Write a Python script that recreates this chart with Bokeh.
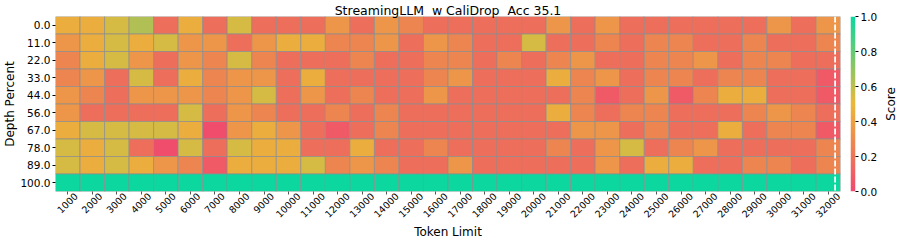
import numpy as np
from bokeh.plotting import figure
from bokeh.models import (ColumnDataSource, LinearColorMapper, FixedTicker, Range1d,
                          Span, LinearAxis, PrintfTickFormatter)
from bokeh.layouts import row
from bokeh.embed import file_html
from bokeh.resources import INLINE

# ---------------- data ----------------
token_limits = [1000, 2000, 3000, 4000, 5000, 6000, 7000, 8000, 9000, 10000,
                11000, 12000, 13000, 14000, 15000, 16000, 17000, 18000, 19000, 20000,
                21000, 22000, 23000, 24000, 25000, 26000, 27000, 28000, 29000, 30000,
                31000, 32000]
depth_labels = ["0.0", "11.0", "22.0", "33.0", "44.0", "56.0", "67.0", "78.0", "89.0", "100.0"]

score_d0 = [0.45, 0.45, 0.55, 0.63, 0.17, 0.45, 0.17, 0.55, 0.17, 0.17,
            0.17, 0.35, 0.17, 0.35, 0.27, 0.17, 0.17, 0.17, 0.17, 0.17,
            0.35, 0.17, 0.35, 0.17, 0.17, 0.17, 0.17, 0.17, 0.17, 0.35,
            0.17, 0.35]
score_d11 = [0.35, 0.45, 0.55, 0.45, 0.55, 0.35, 0.35, 0.17, 0.35, 0.45,
             0.45, 0.27, 0.27, 0.35, 0.17, 0.35, 0.27, 0.17, 0.17, 0.55,
             0.17, 0.17, 0.27, 0.17, 0.27, 0.27, 0.17, 0.17, 0.27, 0.17,
             0.17, 0.27]
score_d22 = [0.27, 0.45, 0.55, 0.35, 0.17, 0.35, 0.27, 0.55, 0.27, 0.17,
             0.17, 0.17, 0.27, 0.17, 0.17, 0.27, 0.27, 0.17, 0.27, 0.17,
             0.27, 0.35, 0.17, 0.17, 0.27, 0.27, 0.35, 0.17, 0.27, 0.27,
             0.17, 0.17]
score_d33 = [0.27, 0.35, 0.17, 0.55, 0.17, 0.45, 0.27, 0.35, 0.35, 0.17,
             0.45, 0.17, 0.17, 0.17, 0.17, 0.27, 0.35, 0.17, 0.17, 0.17,
             0.45, 0.27, 0.35, 0.17, 0.27, 0.27, 0.17, 0.27, 0.27, 0.17,
             0.17, 0.08]
score_d44 = [0.35, 0.27, 0.17, 0.35, 0.35, 0.35, 0.27, 0.35, 0.55, 0.17,
             0.35, 0.17, 0.27, 0.17, 0.17, 0.35, 0.17, 0.17, 0.17, 0.17,
             0.17, 0.27, 0.08, 0.17, 0.35, 0.08, 0.27, 0.45, 0.45, 0.17,
             0.17, 0.08]
score_d56 = [0.35, 0.17, 0.17, 0.17, 0.17, 0.55, 0.17, 0.35, 0.27, 0.17,
             0.17, 0.27, 0.17, 0.27, 0.17, 0.17, 0.17, 0.17, 0.17, 0.17,
             0.45, 0.27, 0.17, 0.27, 0.27, 0.17, 0.17, 0.17, 0.27, 0.35,
             0.27, 0.17]
score_d67 = [0.45, 0.55, 0.55, 0.55, 0.55, 0.45, 0.02, 0.35, 0.45, 0.35,
             0.17, 0.08, 0.17, 0.27, 0.17, 0.17, 0.17, 0.17, 0.17, 0.17,
             0.17, 0.35, 0.35, 0.17, 0.27, 0.17, 0.17, 0.45, 0.17, 0.27,
             0.27, 0.08]
score_d78 = [0.55, 0.45, 0.55, 0.17, 0.02, 0.55, 0.17, 0.55, 0.45, 0.45,
             0.17, 0.17, 0.45, 0.17, 0.17, 0.27, 0.17, 0.17, 0.17, 0.17,
             0.27, 0.17, 0.35, 0.55, 0.17, 0.27, 0.35, 0.17, 0.17, 0.17,
             0.17, 0.27]
score_d89 = [0.55, 0.45, 0.55, 0.45, 0.35, 0.27, 0.08, 0.45, 0.45, 0.45,
             0.55, 0.27, 0.35, 0.27, 0.17, 0.17, 0.35, 0.17, 0.17, 0.17,
             0.17, 0.17, 0.35, 0.17, 0.45, 0.45, 0.17, 0.17, 0.27, 0.27,
             0.17, 0.27]
score_d100 = [1.0, 1.0, 1.0, 1.0, 1.0, 1.0, 1.0, 1.0, 1.0, 1.0,
              1.0, 1.0, 1.0, 1.0, 1.0, 1.0, 1.0, 1.0, 1.0, 1.0,
              1.0, 1.0, 1.0, 1.0, 1.0, 1.0, 1.0, 1.0, 1.0, 1.0,
              1.0, 1.0]
score_rows = [score_d0, score_d11, score_d22, score_d33, score_d44,
              score_d56, score_d67, score_d78, score_d89, score_d100]

# double spaces as in the reference title (one of each pair non-breaking so SVG keeps it)
title_text = "StreamingLLM\u00a0 w CaliDrop\u00a0 Acc 35.1"
marker_position = 31.78   # dashed marker inside the last column
cbar_ticks = [0.0, 0.2, 0.4, 0.6, 0.8, 1.0]

# ---------------- colours ----------------
anchors = ["#F0496E", "#EBB839", "#0CD79F"]


def hex2rgb(h):
    return np.array([int(h[i:i + 2], 16) for i in (1, 3, 5)], dtype=float)


def build_palette(n=256):
    a = [hex2rgb(c) for c in anchors]
    out = []
    for t in np.linspace(0, 1, n):
        if t <= 0.5:
            c = a[0] + (a[1] - a[0]) * (t / 0.5)
        else:
            c = a[1] + (a[2] - a[1]) * ((t - 0.5) / 0.5)
        out.append("#%02x%02x%02x" % tuple(int(round(v)) for v in c))
    return out


mapper = LinearColorMapper(palette=build_palette(), low=0.0, high=1.0)

FONT = "DejaVu Sans"
n_cols = len(token_limits)
n_rows = len(depth_labels)

# layout (pixels)
FIG_H = 241
TOP, BOTTOM = 16, 49
MAIN_W = 841
LEFT, RIGHT = 51, 1
col_px = (MAIN_W - LEFT - RIGHT) / n_cols

# ---------------- main heat map ----------------
xs, ys, vals = [], [], []
for r, row_vals in enumerate(score_rows):
    for c, v in enumerate(row_vals):
        xs.append(c + 0.5)
        ys.append(n_rows - r - 0.5)
        vals.append(v)
src = ColumnDataSource(dict(x=xs, y=ys, score=vals))

p = figure(width=MAIN_W, height=FIG_H, x_range=Range1d(0, n_cols), y_range=Range1d(0, n_rows),
           output_backend="svg", toolbar_location=None, x_axis_location=None,
           min_border_left=LEFT, min_border_right=RIGHT,
           min_border_top=TOP, min_border_bottom=BOTTOM)
p.rect(x="x", y="y", width=1, height=1, source=src,
       fill_color={"field": "score", "transform": mapper},
       line_color="#8c8c8c", line_width=0.7)

p.xgrid.visible = False
p.ygrid.visible = False
p.outline_line_color = None

p.title.text = title_text
p.title.align = "center"
p.title.text_font = FONT
p.title.text_font_size = "12.5px"
p.title.text_font_style = "normal"
p.title.text_color = "black"
p.title.standoff = -2

# y axis (depth)
ytick_pos = [n_rows - i - 0.5 for i in range(n_rows)]
p.yaxis.ticker = FixedTicker(ticks=ytick_pos)
p.yaxis.major_label_overrides = {pos: lab for pos, lab in zip(ytick_pos, depth_labels)}
p.yaxis.axis_line_color = None
p.yaxis.major_tick_in = 0
p.yaxis.major_tick_out = 3
p.yaxis.major_tick_line_color = "black"
p.yaxis.major_label_standoff = 2
p.yaxis.major_label_text_font = FONT
p.yaxis.major_label_text_font_size = "10.5px"
p.yaxis.major_label_text_color = "black"
p.yaxis.axis_label = "Depth Percent"
p.yaxis.axis_label_standoff = 0
p.yaxis.axis_label_text_font = FONT
p.yaxis.axis_label_text_font_size = "12px"
p.yaxis.axis_label_text_font_style = "normal"
p.yaxis.axis_label_text_color = "black"

# x axis: tick marks at the column centres
xtick_pos = [c + 0.5 for c in range(n_cols)]
tick_axis = LinearAxis(ticker=FixedTicker(ticks=xtick_pos),
                       major_label_overrides={pos: "" for pos in xtick_pos},
                       major_label_text_font_size="1px", major_label_standoff=0,
                       axis_line_color=None, major_tick_in=0, major_tick_out=3,
                       major_tick_line_color="#555555")
p.add_layout(tick_axis, "below")

# x axis labels: rotated 45 deg, each label centred under its column like the reference
xt_font = 9.5
label_pos = [round(c + 0.5 + (0.3535 * len(str(t)) * 0.636 * xt_font - 0.3) / col_px, 4)
             for c, t in enumerate(token_limits)]
label_axis = LinearAxis(ticker=FixedTicker(ticks=label_pos),
                        major_label_overrides={pos: str(t) for pos, t in zip(label_pos, token_limits)},
                        major_label_orientation=np.pi / 4,
                        major_label_text_font=FONT,
                        major_label_text_font_size="%.1fpx" % xt_font,
                        major_label_text_color="black",
                        major_label_standoff=0,
                        axis_line_color=None, major_tick_in=0, major_tick_out=0,
                        major_tick_line_color=None,
                        axis_label="Token Limit", axis_label_standoff=1,
                        axis_label_text_font=FONT, axis_label_text_font_size="12px",
                        axis_label_text_font_style="normal", axis_label_text_color="black")
p.add_layout(label_axis, "below")

# dashed marker
p.add_layout(Span(location=marker_position, dimension="height", line_color="white",
                  line_width=1.8, line_dash="6 2"))

# ---------------- colour bar (gradient + tick labels) ----------------
CB_W = 39
cb = figure(width=CB_W, height=FIG_H, x_range=Range1d(0, 1), y_range=Range1d(0, 1),
            output_backend="svg", toolbar_location=None,
            x_axis_location=None, y_axis_location="right",
            min_border_left=9, min_border_right=CB_W - 17,
            min_border_top=TOP, min_border_bottom=BOTTOM)
grad = np.linspace(0, 1, 256).reshape(256, 1)
cb.image(image=[grad], x=0, y=0, dw=1, dh=1, color_mapper=mapper)
cb.xgrid.visible = False
cb.ygrid.visible = False
cb.outline_line_color = None
cb.yaxis.ticker = FixedTicker(ticks=cbar_ticks)
cb.yaxis.formatter = PrintfTickFormatter(format="%.1f")
cb.yaxis.axis_line_color = None
cb.yaxis.major_tick_in = 0
cb.yaxis.major_tick_out = 3
cb.yaxis.major_tick_line_color = "black"
cb.yaxis.major_label_standoff = 2
cb.yaxis.major_label_text_font = FONT
cb.yaxis.major_label_text_font_size = "10.5px"
cb.yaxis.major_label_text_color = "black"

# ---------------- colour bar title ("Score", reading bottom-to-top) ----------------
SC_W = 897 - MAIN_W - CB_W
sc = figure(width=SC_W, height=FIG_H, x_range=Range1d(0, 1), y_range=Range1d(0, 1),
            output_backend="svg", toolbar_location=None,
            x_axis_location=None, y_axis_location="left",
            min_border_left=12, min_border_right=0,
            min_border_top=TOP, min_border_bottom=BOTTOM)
sc.xgrid.visible = False
sc.ygrid.visible = False
sc.outline_line_color = None
sc.yaxis.ticker = FixedTicker(ticks=[])
sc.yaxis.axis_line_color = None
sc.yaxis.major_tick_out = 0
sc.yaxis.major_tick_in = 0
sc.yaxis.minor_tick_out = 0
sc.yaxis.major_label_standoff = 0
sc.yaxis.axis_label = "Score"
sc.yaxis.axis_label_standoff = 0
sc.yaxis.axis_label_text_font = FONT
sc.yaxis.axis_label_text_font_size = "12px"
sc.yaxis.axis_label_text_font_style = "normal"
sc.yaxis.axis_label_text_color = "black"

layout = row(p, cb, sc)
open("out.html", "w").write(file_html(layout, INLINE))
